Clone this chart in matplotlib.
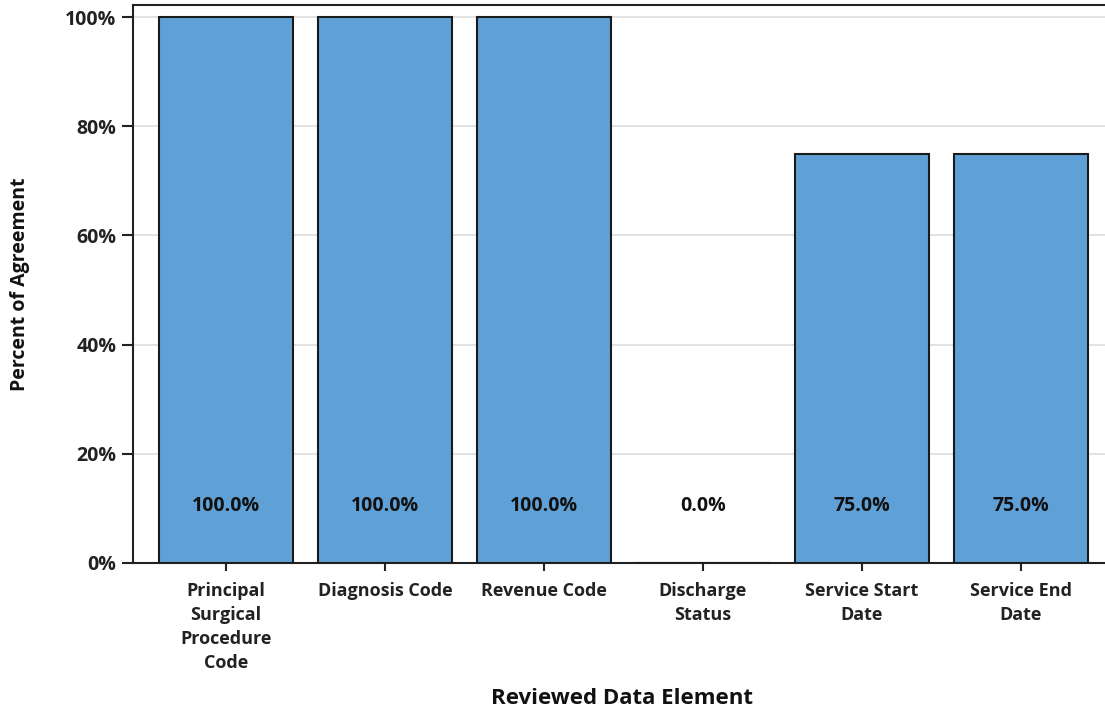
import numpy as np
import matplotlib.pyplot as plt

categories = ["Principal\nSurgical\nProcedure\nCode", "Diagnosis Code", "Revenue Code",
              "Discharge\nStatus", "Service Start\nDate", "Service End\nDate"]
agreement = [100.0, 100.0, 100.0, 0.0, 75.0, 75.0]
yticks = [0, 20, 40, 60, 80, 100]

plt.rcParams['font.family'] = ['Open Sans', 'DejaVu Sans']

W, H = 1105, 711
fig = plt.figure(figsize=(W / 100, H / 100), dpi=100)
ax = fig.add_axes([133 / W, 1 - 563 / H, (1114 - 133) / W, (563 - 5) / H])

x = np.arange(len(categories))
ax.bar(x, agreement, width=0.84, color='#5fa1d7', edgecolor='#1a1a1a', linewidth=1.5, zorder=3)

for xi, v in zip(x, agreement):
    ax.text(xi, 10.4, "%.1f%%" % v, ha='center', va='center', fontsize=14,
            fontweight='bold', color='#111111', zorder=4)

ax.set_xlim(-0.585, 5.585)
ax.set_ylim(0, 102.2)
ax.set_yticks(yticks)
ax.set_yticklabels(["%d%%" % t for t in yticks])
ax.set_xticks(x)
ax.set_xticklabels(categories, linespacing=1.42)
ax.yaxis.grid(True, color='#dddddd', linewidth=1.2, zorder=0)

for lab in ax.get_xticklabels():
    lab.set_fontweight('bold')
    lab.set_fontsize(13)
    lab.set_color('#222222')
for lab in ax.get_yticklabels():
    lab.set_fontweight('bold')
    lab.set_fontsize(14)
    lab.set_color('#222222')

ax.tick_params(axis='y', length=8, width=1.5, color='#222222', pad=4)
ax.tick_params(axis='x', length=6, width=1.5, color='#222222', pad=8)

for s in ['left', 'top', 'bottom']:
    ax.spines[s].set_linewidth(1.5)
    ax.spines[s].set_color('#222222')
ax.spines['right'].set_visible(False)

fig.text(20 / W, 1 - 284 / H, "Percent of Agreement", rotation=90, ha='center', va='center',
         fontsize=14, fontweight='bold', color='#111111')
fig.text(622 / W, 1 - 698 / H, "Reviewed Data Element", ha='center', va='center',
         fontsize=16, fontweight='bold', color='#111111')

fig.savefig('out.png', dpi=100)
